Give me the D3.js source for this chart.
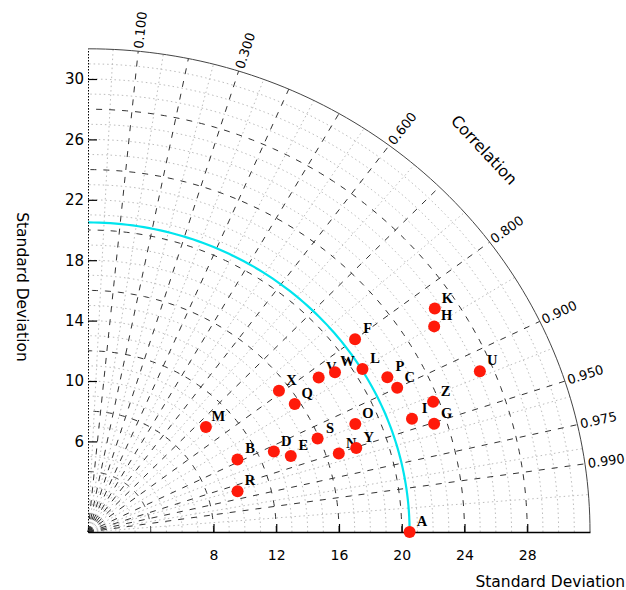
<!DOCTYPE html>
<html>
<head>
<meta charset="utf-8">
<script src="https://cdn.jsdelivr.net/npm/d3@7"></script>
<style>
  html, body { margin: 0; padding: 0; background: #fff; }
  svg { display: block; }
</style>
</head>
<body>
<svg id="chart" width="626" height="590"></svg>
<script>
// ---------- data ----------
const models      = ["A","B","C","D","E","F","G","H","I","K","L","M","N","O","P","Q","R","S","U","V","W","X","Y","Z"];
const stdDevs     = [20.5,10.67,21.90,12.99,13.87,21.28,23.20,25.93,21.97,26.60,20.56,10.24,16.81,18.48,21.66,15.67,9.91,15.89,27.15,17.91,18.97,15.35,17.98,23.63];
const correlations= [1.000,0.893,0.900,0.912,0.932,0.800,0.951,0.851,0.940,0.831,0.851,0.734,0.951,0.922,0.881,0.841,0.962,0.921,0.920,0.821,0.830,0.793,0.951,0.931];
const refStd = 20.5;
const maxStd = 32;
const xTickValues = [8,12,16,20,24,28];
const yTickValues = [6,10,14,18,22,26,30];
const corrLabelValues = [0.1,0.3,0.6,0.8,0.9,0.95,0.975,0.99];
const corrMajor = [0.1,0.2,0.3,0.4,0.5,0.6,0.7,0.8,0.9,0.95,0.975,0.99];
const corrMinor = [0.05,0.15,0.25,0.35,0.45,0.55,0.65,0.75,0.85,0.925,0.96,0.985,0.997];
const stdMajor = [4,8,12,16,20,24,28];
const stdMinor = d3.range(1, 32).filter(v => v % 4 !== 0);

// ---------- setup ----------
const svg = d3.select("#chart");
const x = d3.scaleLinear().domain([0, maxStd]).range([88, 590]);
const y = d3.scaleLinear().domain([0, maxStd]).range([532, 48.8]);
const pt = (r, c) => [x(r * c), y(r * Math.sqrt(Math.max(0, 1 - c * c)))];
const arcLine = d3.line();
const arcPts = r => d3.range(0, 91).map(a => {
  const t = a * Math.PI / 180; return [x(r * Math.cos(t)), y(r * Math.sin(t))];
});

const g = svg.append("g");

// minor grid (grey dotted)
g.selectAll(".minArc").data(stdMinor).enter().append("path")
  .attr("d", r => arcLine(arcPts(r)))
  .attr("fill", "none").attr("stroke", "#bdbdbd").attr("stroke-width", 1)
  .attr("stroke-dasharray", "1.5,3");
g.selectAll(".minRad").data(corrMinor).enter().append("path")
  .attr("d", c => arcLine([pt(0, c), pt(maxStd, c)]))
  .attr("fill", "none").attr("stroke", "#bdbdbd").attr("stroke-width", 1)
  .attr("stroke-dasharray", "1.5,3");

// major grid (black dashed)
g.selectAll(".majArc").data(stdMajor).enter().append("path")
  .attr("d", r => arcLine(arcPts(r)))
  .attr("fill", "none").attr("stroke", "#333").attr("stroke-width", 1)
  .attr("stroke-dasharray", "6,7");
g.selectAll(".majRad").data(corrMajor).enter().append("path")
  .attr("d", c => arcLine([pt(0, c), pt(maxStd, c)]))
  .attr("fill", "none").attr("stroke", "#333").attr("stroke-width", 1)
  .attr("stroke-dasharray", "6,7");

// outer arc
g.append("path").attr("d", arcLine(arcPts(maxStd)))
  .attr("fill", "none").attr("stroke", "#444").attr("stroke-width", 1);

// reference arc (cyan)
g.append("path").attr("d", arcLine(arcPts(refStd)))
  .attr("fill", "none").attr("stroke", "#00e5ee").attr("stroke-width", 2.2);

// axes
const xAxis = d3.axisBottom(x).tickValues(xTickValues).tickSizeInner(-8).tickSizeOuter(0).tickPadding(18)
  .tickFormat(d3.format("d"));
const xg = svg.append("g").attr("transform", `translate(0,${y(0)})`).call(xAxis);
xg.select(".domain").attr("stroke", "#000").attr("stroke-width", 1.6);
xg.selectAll(".tick line").attr("stroke", "#000").attr("stroke-width", 1.2);
xg.selectAll(".tick text").attr("font-family", "DejaVu Sans, sans-serif").attr("font-size", 14).attr("fill", "#000");

const yAxis = d3.axisLeft(y).tickValues(yTickValues).tickSizeInner(-9).tickSizeOuter(0).tickPadding(5)
  .tickFormat(d3.format("d"));
const yg = svg.append("g").attr("transform", `translate(${x(0)},0)`).call(yAxis);
yg.select(".domain").attr("stroke", "#000").attr("stroke-width", 1).attr("stroke-dasharray", "1.5,1.5");
yg.selectAll(".tick line").attr("stroke", "#000").attr("stroke-width", 1.2);
yg.selectAll(".tick text").attr("font-family", "DejaVu Sans, sans-serif").attr("font-size", 15).attr("fill", "#000")
  .attr("x", -4);

// correlation labels
corrLabelValues.forEach(c => {
  const p0 = pt(0, c), p1 = pt(maxStd, c);
  const ang = Math.atan2(p1[1] - p0[1], p1[0] - p0[0]) * 180 / Math.PI;
  const p = pt(maxStd + 0.18, c);
  svg.append("text")
    .attr("transform", `translate(${p[0]},${p[1]}) rotate(${ang})`)
    .attr("text-anchor", "start").attr("dominant-baseline", "central")
    .attr("font-family", "DejaVu Sans, sans-serif").attr("font-size", 13).attr("fill", "#000")
    .text(d3.format(".3f")(c));
});

// axis titles
svg.append("text").attr("x", 625).attr("y", 587).attr("text-anchor", "end")
  .attr("font-family", "DejaVu Sans, sans-serif").attr("font-size", 15.5).text("Standard Deviation");
svg.append("text").attr("transform", "translate(17,287) rotate(90)").attr("text-anchor", "middle")
  .attr("font-family", "DejaVu Sans, sans-serif").attr("font-size", 15.5).text("Standard Deviation");
svg.append("text").attr("transform", "translate(484,150) rotate(47)").attr("text-anchor", "middle")
  .attr("dominant-baseline", "central")
  .attr("font-family", "DejaVu Sans, sans-serif").attr("font-size", 16).text("Correlation");

// points
const data = models.map((m, i) => ({ m, s: stdDevs[i], c: correlations[i] }));
const pts = svg.append("g").selectAll("g").data(data).enter().append("g")
  .attr("transform", d => { const p = pt(d.s, d.c); return `translate(${p[0]},${p[1]})`; });
pts.append("circle").attr("r", 6).attr("fill", "#ff1a0a");
pts.append("text").attr("x", 12.5).attr("y", -6).attr("text-anchor", "middle")
  .attr("font-family", "Liberation Serif, serif").attr("font-weight", "bold").attr("font-size", 14.5)
  .attr("fill", "#000").text(d => d.m);
</script>
</body>
</html>
